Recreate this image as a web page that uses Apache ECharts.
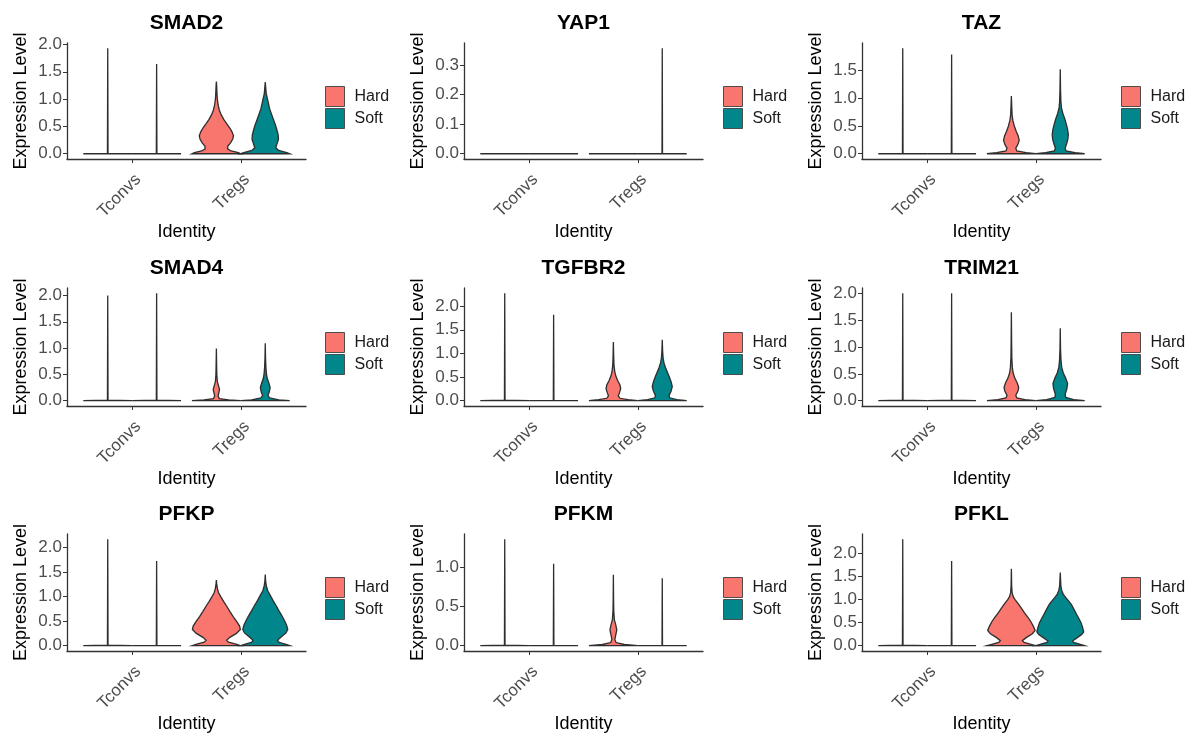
<!DOCTYPE html>
<html>
<head>
<meta charset="utf-8">
<script src="https://cdn.jsdelivr.net/npm/echarts@6/dist/echarts.min.js"></script>
<style>
  html, body { margin: 0; padding: 0; background: #fff; }
  #main { width: 1196px; height: 738px; }
</style>
</head>
<body>
<div id="main"></div>
<script>
// genes / groups / conditions
var genes = ['SMAD2', 'YAP1', 'TAZ', 'SMAD4', 'TGFBR2', 'TRIM21', 'PFKP', 'PFKM', 'PFKL'];
var groups = ['Tconvs', 'Tregs'];
var conditions = ['Hard', 'Soft'];
var conditionColors = ['#F8766D', '#00868B'];

// Tconvs violins are almost all zero: only the max value shows as a spike
var tconvsHardTop = [1.93, 0, 1.90, 2.00, 2.27, 2.00, 2.17, 1.35, 2.31];
var tconvsSoftTop = [1.64, 0, 1.79, 2.04, 1.82, 2.00, 1.73, 1.04, 1.84];

// y tick values per gene
var yTicks = [
    [0, 0.5, 1, 1.5, 2],
    [0, 0.1, 0.2, 0.3],
    [0, 0.5, 1, 1.5],
    [0, 0.5, 1, 1.5, 2],
    [0, 0.5, 1, 1.5, 2],
    [0, 0.5, 1, 1.5, 2],
    [0, 0.5, 1, 1.5, 2],
    [0, 0.5, 1],
    [0, 0.5, 1, 1.5, 2]
];

// Tregs violin profiles: [expression level, relative half width]
var smad2Hard = [[0, 1], [0.02, 0.9], [0.05, 0.6], [0.09, 0.46], [0.14, 0.47], [0.2, 0.58], [0.27, 0.67], [0.33, 0.7], [0.4, 0.64], [0.47, 0.55], [0.55, 0.42], [0.63, 0.3], [0.72, 0.19], [0.8, 0.12], [0.88, 0.08], [0.96, 0.05], [1.05, 0.03], [1.15, 0.02], [1.25, 0.012], [1.32, 0]];
var smad2Soft = [[0, 1], [0.02, 0.88], [0.06, 0.55], [0.11, 0.43], [0.18, 0.48], [0.26, 0.54], [0.34, 0.53], [0.43, 0.48], [0.52, 0.42], [0.62, 0.34], [0.72, 0.26], [0.82, 0.18], [0.92, 0.13], [1.02, 0.08], [1.1, 0.04], [1.2, 0.02], [1.31, 0]];
var yap1Hard = [[0, 1]];
var yap1Soft = [[0, 1], [0.0015, 0.01], [0.356, 0]];
var tazHard = [[0, 1], [0.02, 0.6], [0.05, 0.22], [0.1, 0.18], [0.16, 0.26], [0.24, 0.32], [0.32, 0.28], [0.4, 0.2], [0.5, 0.12], [0.6, 0.06], [0.7, 0.03], [0.85, 0.015], [1.04, 0]];
var tazSoft = [[0, 1], [0.02, 0.6], [0.05, 0.24], [0.1, 0.2], [0.18, 0.26], [0.26, 0.31], [0.34, 0.33], [0.44, 0.3], [0.53, 0.25], [0.62, 0.19], [0.72, 0.11], [0.82, 0.05], [0.95, 0.025], [1.15, 0.012], [1.52, 0]];
var smad4Hard = [[0, 1], [0.015, 0.5], [0.04, 0.12], [0.09, 0.07], [0.15, 0.1], [0.21, 0.13], [0.28, 0.09], [0.36, 0.04], [0.5, 0.018], [0.7, 0.01], [0.99, 0]];
var smad4Soft = [[0, 1], [0.015, 0.55], [0.05, 0.18], [0.1, 0.11], [0.17, 0.17], [0.25, 0.2], [0.33, 0.15], [0.42, 0.08], [0.52, 0.045], [0.65, 0.025], [0.8, 0.012], [1.09, 0]];
var tgfbr2Hard = [[0, 1], [0.02, 0.6], [0.05, 0.27], [0.1, 0.2], [0.17, 0.25], [0.25, 0.3], [0.33, 0.27], [0.42, 0.18], [0.52, 0.1], [0.62, 0.055], [0.75, 0.025], [0.95, 0.012], [1.24, 0]];
var tgfbr2Soft = [[0, 1], [0.02, 0.6], [0.06, 0.3], [0.11, 0.28], [0.2, 0.36], [0.3, 0.41], [0.4, 0.36], [0.5, 0.29], [0.6, 0.21], [0.7, 0.13], [0.8, 0.07], [0.9, 0.035], [1.05, 0.015], [1.29, 0]];
var trim21Hard = [[0, 1], [0.02, 0.55], [0.05, 0.22], [0.1, 0.18], [0.18, 0.27], [0.25, 0.3], [0.33, 0.24], [0.42, 0.14], [0.52, 0.07], [0.62, 0.04], [0.8, 0.018], [1.1, 0.01], [1.65, 0]];
var trim21Soft = [[0, 1], [0.02, 0.55], [0.06, 0.22], [0.12, 0.2], [0.22, 0.27], [0.32, 0.3], [0.42, 0.22], [0.52, 0.12], [0.62, 0.06], [0.75, 0.03], [0.95, 0.012], [1.35, 0]];
var pfkpHard = [[0, 0.98], [0.03, 0.8], [0.07, 0.5], [0.11, 0.42], [0.17, 0.55], [0.25, 0.82], [0.33, 0.98], [0.4, 0.95], [0.5, 0.82], [0.6, 0.68], [0.7, 0.55], [0.8, 0.43], [0.9, 0.3], [0.99, 0.19], [1.08, 0.09], [1.17, 0.04], [1.26, 0.015], [1.34, 0]];
var pfkpSoft = [[0, 1], [0.03, 0.82], [0.07, 0.56], [0.11, 0.5], [0.18, 0.66], [0.26, 0.85], [0.33, 0.92], [0.42, 0.87], [0.52, 0.78], [0.62, 0.67], [0.72, 0.55], [0.82, 0.44], [0.92, 0.32], [1.02, 0.21], [1.12, 0.1], [1.22, 0.045], [1.32, 0.015], [1.45, 0]];
var pfkmHard = [[0, 1], [0.015, 0.45], [0.04, 0.11], [0.08, 0.06], [0.14, 0.1], [0.2, 0.14], [0.26, 0.1], [0.33, 0.04], [0.45, 0.015], [0.6, 0.008], [0.9, 0]];
var pfkmSoft = [[0, 1], [0.004, 0.01], [0.855, 0]];
var pfklHard = [[0, 1], [0.03, 0.8], [0.07, 0.52], [0.11, 0.45], [0.18, 0.62], [0.26, 0.86], [0.33, 0.97], [0.42, 0.9], [0.52, 0.8], [0.62, 0.67], [0.72, 0.53], [0.82, 0.4], [0.92, 0.27], [1.0, 0.15], [1.06, 0.08], [1.15, 0.03], [1.3, 0.012], [1.67, 0]];
var pfklSoft = [[0, 1], [0.03, 0.82], [0.07, 0.55], [0.1, 0.5], [0.17, 0.68], [0.24, 0.88], [0.3, 0.96], [0.4, 0.91], [0.5, 0.85], [0.6, 0.75], [0.7, 0.65], [0.8, 0.55], [0.9, 0.45], [0.98, 0.33], [1.05, 0.22], [1.12, 0.12], [1.2, 0.06], [1.3, 0.025], [1.59, 0]];

var tregsHard = [smad2Hard, yap1Hard, tazHard, smad4Hard, tgfbr2Hard, trim21Hard, pfkpHard, pfkmHard, pfklHard];
var tregsSoft = [smad2Soft, yap1Soft, tazSoft, smad4Soft, tgfbr2Soft, trim21Soft, pfkpSoft, pfkmSoft, pfklSoft];

// panel layout
var colLeft = [67, 464, 862];
var rowTop = [43, 288, 534];
var rowHeight = [116, 118, 117];
var panelWidth = 239;
var legendLeft = [325, 723, 1121];
var legendTop = [86, 332, 577];

var fontFamily = '"Liberation Sans", Arial, sans-serif';

function spike(top) {
    if (top <= 0) return [[0, 1]];
    return [[0, 1], [top * 0.004, 0.012], [top, 0]];
}

function maxOf(profile) {
    return profile[profile.length - 1][0];
}

function violinRender(profiles, side) {
    return function (params, api) {
        var prof = profiles[params.dataIndex];
        var cx = api.value(0) + side * 0.225;
        var half = 0.225;
        var left = [], right = [];
        for (var k = 0; k < prof.length; k++) {
            left.push(api.coord([cx - prof[k][1] * half, prof[k][0]]));
            right.push(api.coord([cx + prof[k][1] * half, prof[k][0]]));
        }
        var pts = left.concat(right.reverse());
        return {
            type: 'polygon',
            shape: { points: pts },
            style: {
                fill: api.visual('color'),
                stroke: '#2e2e2e',
                lineWidth: 1.3
            }
        };
    };
}

var option = {
    animation: false,
    backgroundColor: '#ffffff',
    title: [],
    legend: [],
    grid: [],
    xAxis: [],
    yAxis: [],
    series: []
};

genes.forEach(function (gene, i) {
    var r = Math.floor(i / 3), c = i % 3;
    var hardProfiles = [spike(tconvsHardTop[i]), tregsHard[i]];
    var softProfiles = [spike(tconvsSoftTop[i]), tregsSoft[i]];
    var top = Math.max(maxOf(hardProfiles[0]), maxOf(hardProfiles[1]), maxOf(softProfiles[0]), maxOf(softProfiles[1]));

    option.grid.push({
        left: colLeft[c], top: rowTop[r], width: panelWidth, height: rowHeight[r]
    });

    option.title.push({
        text: gene,
        left: colLeft[c] + panelWidth / 2,
        top: rowTop[r] - 30,
        padding: 0,
        textAlign: 'center',
        textStyle: { fontFamily: fontFamily, fontSize: 21, fontWeight: 'bold', color: '#000' }
    });

    option.legend.push({
        data: conditions,
        orient: 'vertical',
        left: legendLeft[c],
        top: legendTop[r],
        padding: 0,
        icon: 'rect',
        itemWidth: 19,
        itemHeight: 20,
        itemGap: 1,
        selectedMode: false,
        itemStyle: { borderColor: '#4d4d4d', borderWidth: 1 },
        textStyle: { fontFamily: fontFamily, fontSize: 16, color: '#1a1a1a', padding: [0, 0, 0, 5] }
    });

    option.xAxis.push({
        gridIndex: i,
        type: 'value',
        min: -0.6,
        max: 1.6,
        name: 'Identity',
        nameLocation: 'middle',
        nameGap: 62,
        nameTextStyle: { fontFamily: fontFamily, fontSize: 18, color: '#000' },
        axisLine: { onZero: false, lineStyle: { color: '#333333', width: 1.3 } },
        axisTick: { customValues: [0, 1], length: 4, lineStyle: { color: '#333333' } },
        axisLabel: {
            customValues: [0, 1],
            rotate: 45,
            margin: 12,
            verticalAlign: 'top',
            fontFamily: fontFamily,
            fontSize: 17,
            color: '#4d4d4d',
            formatter: function (v) { return groups[Math.round(v)]; }
        },
        splitLine: { show: false }
    });

    option.yAxis.push({
        gridIndex: i,
        type: 'value',
        min: -0.05 * top,
        max: 1.05 * top,
        name: 'Expression Level',
        nameLocation: 'middle',
        nameGap: 37,
        nameTextStyle: { fontFamily: fontFamily, fontSize: 18, color: '#000' },
        axisLine: { show: true, onZero: false, lineStyle: { color: '#333333', width: 1.3 } },
        axisTick: { show: true, customValues: yTicks[i], length: 4, lineStyle: { color: '#333333' } },
        axisLabel: {
            customValues: yTicks[i],
            margin: 5,
            fontFamily: fontFamily,
            fontSize: 17,
            color: '#4d4d4d',
            formatter: function (v) { return v.toFixed(1); }
        },
        splitLine: { show: false }
    });

    option.series.push({
        type: 'custom',
        name: conditions[0],
        xAxisIndex: i,
        yAxisIndex: i,
        itemStyle: { color: conditionColors[0] },
        data: [[0, maxOf(hardProfiles[0])], [1, maxOf(hardProfiles[1])]],
        encode: { x: 0, y: 1 },
        renderItem: violinRender(hardProfiles, -1)
    });
    option.series.push({
        type: 'custom',
        name: conditions[1],
        xAxisIndex: i,
        yAxisIndex: i,
        itemStyle: { color: conditionColors[1] },
        data: [[0, maxOf(softProfiles[0])], [1, maxOf(softProfiles[1])]],
        encode: { x: 0, y: 1 },
        renderItem: violinRender(softProfiles, 1)
    });
});

var chart = echarts.init(document.getElementById('main'));
chart.setOption(option);
</script>
</body>
</html>
